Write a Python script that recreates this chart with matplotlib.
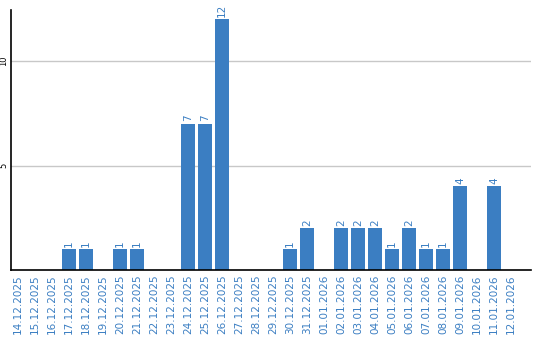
import matplotlib
matplotlib.use("Agg")
import matplotlib.pyplot as plt

dates = ["14.12.2025", "15.12.2025", "16.12.2025", "17.12.2025", "18.12.2025",
         "19.12.2025", "20.12.2025", "21.12.2025", "22.12.2025", "23.12.2025",
         "24.12.2025", "25.12.2025", "26.12.2025", "27.12.2025", "28.12.2025",
         "29.12.2025", "30.12.2025", "31.12.2025", "01.01.2026", "02.01.2026",
         "03.01.2026", "04.01.2026", "05.01.2026", "06.01.2026", "07.01.2026",
         "08.01.2026", "09.01.2026", "10.01.2026", "11.01.2026", "12.01.2026"]
counts = [0, 0, 0, 1, 1, 0, 1, 1, 0, 0,
          7, 7, 12, 0, 0, 0, 1, 2, 0, 2,
          2, 2, 1, 2, 1, 1, 4, 0, 4, 0]
yticks = [5, 10]

blue = "#3b7ec2"

fig = plt.figure(figsize=(5.4, 3.4), dpi=100)
ax = fig.add_axes([0.0204, 0.2059, 0.9630, 0.7647])

x = range(len(dates))
ax.bar(x, counts, width=0.82, color=blue, zorder=2)

for xi, v in zip(x, counts):
    if v > 0:
        ax.text(xi, v + 0.12, str(v), rotation=90, ha="center", va="bottom",
                color=blue, fontsize=7.5)

ax.set_xlim(-0.41, 30.18)
ax.set_ylim(0, 12.45)
ax.set_xticks(list(x))
ax.set_xticklabels(dates, rotation=90, color=blue, fontsize=7.5)
ax.set_yticks(yticks)
ax.set_yticklabels([str(t) for t in yticks], rotation=90, fontsize=6, va="center")
ax.tick_params(length=0, pad=3)
ax.tick_params(axis="y", pad=2)
ax.yaxis.grid(True, color="#c8c8c8", linewidth=1, zorder=0)

for s in ["top", "right"]:
    ax.spines[s].set_visible(False)
ax.spines["left"].set_linewidth(1.2)
ax.spines["bottom"].set_linewidth(1.2)

fig.savefig("out.png", dpi=100)
